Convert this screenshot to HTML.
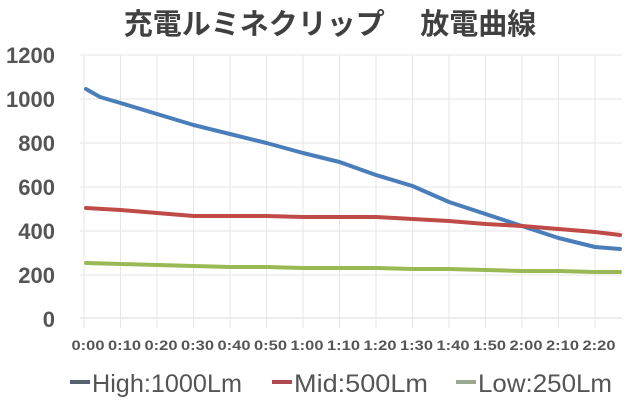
<!DOCTYPE html><html><head><meta charset="utf-8"><style>body{margin:0;background:#fff}</style></head><body>
<svg width="628" height="403" xmlns="http://www.w3.org/2000/svg" font-family="Liberation Sans, Noto Sans CJK JP, sans-serif">
<text x="330" y="34" text-anchor="middle" font-size="29" font-weight="bold" fill="#404040" font-family="Noto Sans CJK JP, sans-serif">充電ルミネクリップ　 放電曲線</text>
<g stroke="#e6e6e6" stroke-width="1">
<line x1="80" x2="622" y1="55" y2="55"/><line x1="80" x2="622" y1="99" y2="99"/><line x1="80" x2="622" y1="143" y2="143"/><line x1="80" x2="622" y1="187" y2="187"/><line x1="80" x2="622" y1="231" y2="231"/><line x1="80" x2="622" y1="275" y2="275"/>
</g>
<line x1="80" x2="622" y1="318" y2="318" stroke="#d9d9d9"/>
<g stroke="#e6e6e6"><line x1="84" x2="84" y1="55" y2="328"/><line x1="120.5" x2="120.5" y1="55" y2="328"/><line x1="157" x2="157" y1="55" y2="328"/><line x1="193.5" x2="193.5" y1="55" y2="328"/><line x1="230" x2="230" y1="55" y2="328"/><line x1="266.5" x2="266.5" y1="55" y2="328"/><line x1="303" x2="303" y1="55" y2="328"/><line x1="339.5" x2="339.5" y1="55" y2="328"/><line x1="376" x2="376" y1="55" y2="328"/><line x1="412.5" x2="412.5" y1="55" y2="328"/><line x1="449" x2="449" y1="55" y2="328"/><line x1="485.5" x2="485.5" y1="55" y2="328"/><line x1="522" x2="522" y1="55" y2="328"/><line x1="558.5" x2="558.5" y1="55" y2="328"/><line x1="595" x2="595" y1="55" y2="328"/></g>
<g font-size="22" font-weight="bold" fill="#555" text-anchor="end">
<text x="55" y="63">1200</text><text x="55" y="107">1000</text><text x="55" y="151">800</text><text x="55" y="195">600</text><text x="55" y="239">400</text><text x="55" y="283">200</text><text x="55" y="327">0</text></g>
<g font-size="14" font-weight="bold" fill="#555" text-anchor="middle">
<text x="88" y="350" textLength="33" lengthAdjust="spacingAndGlyphs">0:00</text><text x="124.5" y="350" textLength="33" lengthAdjust="spacingAndGlyphs">0:10</text><text x="161" y="350" textLength="33" lengthAdjust="spacingAndGlyphs">0:20</text><text x="197.5" y="350" textLength="33" lengthAdjust="spacingAndGlyphs">0:30</text><text x="234" y="350" textLength="33" lengthAdjust="spacingAndGlyphs">0:40</text><text x="270.5" y="350" textLength="33" lengthAdjust="spacingAndGlyphs">0:50</text><text x="307" y="350" textLength="33" lengthAdjust="spacingAndGlyphs">1:00</text><text x="343.5" y="350" textLength="33" lengthAdjust="spacingAndGlyphs">1:10</text><text x="380" y="350" textLength="33" lengthAdjust="spacingAndGlyphs">1:20</text><text x="416.5" y="350" textLength="33" lengthAdjust="spacingAndGlyphs">1:30</text><text x="453" y="350" textLength="33" lengthAdjust="spacingAndGlyphs">1:40</text><text x="489.5" y="350" textLength="33" lengthAdjust="spacingAndGlyphs">1:50</text><text x="526" y="350" textLength="33" lengthAdjust="spacingAndGlyphs">2:00</text><text x="562.5" y="350" textLength="33" lengthAdjust="spacingAndGlyphs">2:10</text><text x="599" y="350" textLength="33" lengthAdjust="spacingAndGlyphs">2:20</text></g>
<g fill="none" stroke-width="4" stroke-linejoin="round" stroke-linecap="round">
<polyline stroke="#4a7ebb" points="86,89 100,97 120.5,103 157,114 193.5,125 230,134 266.5,143 303,153 339.5,162 376,175 412.5,186 449,202 485.5,214 522,226 558.5,238 595,247 620,249"/>
<polyline stroke="#be4b48" points="86,208 120.5,210 157,213 193.5,216 230,216 266.5,216 303,217 339.5,217 376,217 412.5,219 449,221 485.5,224 522,226 558.5,229 595,232 620,235"/>
<polyline stroke="#98b954" points="86,263 120.5,264 157,265 193.5,266 230,267 266.5,267 303,268 339.5,268 376,268 412.5,269 449,269 485.5,270 522,271 558.5,271 595,272 620,272"/>
</g>
<g font-size="25" fill="#555">
<line x1="70" x2="90" y1="382" y2="382" stroke="#556070" stroke-width="4"/><text x="92" y="392" textLength="150" lengthAdjust="spacingAndGlyphs">High:1000Lm</text>
<line x1="272" x2="292" y1="382" y2="382" stroke="#b04a50" stroke-width="4"/><text x="294" y="392" textLength="134" lengthAdjust="spacingAndGlyphs">Mid:500Lm</text>
<line x1="456" x2="476" y1="382" y2="382" stroke="#9aa890" stroke-width="4"/><text x="478" y="392" textLength="134" lengthAdjust="spacingAndGlyphs">Low:250Lm</text>
</g>
</svg></body></html>
